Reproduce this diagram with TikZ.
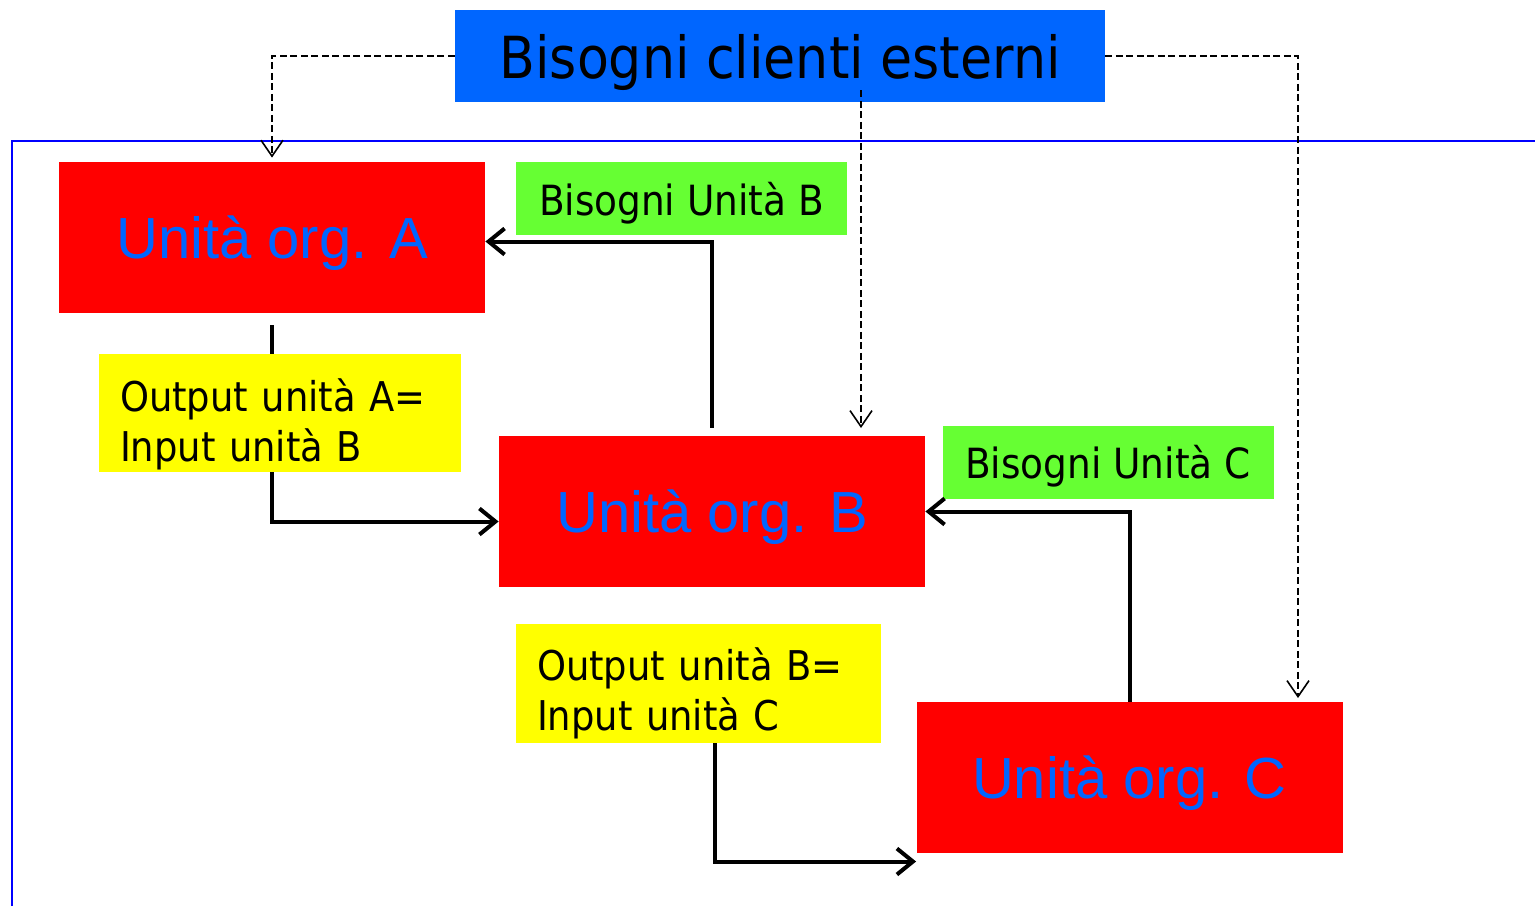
\documentclass[tikz,border=0pt]{standalone}
\usepackage{fontspec}
\setmainfont{DejaVu Sans Condensed}
\newfontfamily\arialfont{Liberation Sans}
\usetikzlibrary{arrows.meta}
\definecolor{extblue}{RGB}{0,102,255}
\definecolor{unitred}{RGB}{255,0,0}
\definecolor{needgreen}{RGB}{102,255,51}
\definecolor{flowyellow}{RGB}{255,255,0}
\definecolor{frameblue}{RGB}{0,0,255}
\tikzstyle{extbox} =
[
	rectangle
	, minimum width=325pt
	, minimum height=46pt
	, text depth=0pt
	, fill=extblue
	, font=\fontsize{29}{34}\selectfont
]
\tikzstyle{unitbox} =
[
	rectangle
	, minimum width=213pt
	, minimum height=75.5pt
	, text depth=0pt
	, fill=unitred
	, text=extblue
	, font=\arialfont\fontsize{29}{34}\selectfont
]
\tikzstyle{needbox} =
[
	rectangle
	, minimum width=165.5pt
	, minimum height=36.5pt
	, text depth=0pt
	, fill=needgreen
	, font=\fontsize{20.8}{25}\selectfont
]
\tikzstyle{flowbox} =
[
	rectangle
	, text width=160pt
	, inner xsep=10.5pt
	, inner ysep=0pt
	, text height=28.5pt
	, text depth=30.5pt
	, align=left
	, fill=flowyellow
	, font=\fontsize{20.5}{25}\selectfont
]
\tikzstyle{arrow} = [line width=2pt, -{Straight Barb[length=8pt,width=13pt]}]
\tikzstyle{plainline} = [line width=2pt]
\tikzstyle{needarrow} = [line width=1.1pt, dash pattern=on 3.5pt off 1.75pt, -{Straight Barb[length=8pt,width=11pt,line width=0.8pt]}]
\tikzstyle{frame} = [line width=1pt, draw=frameblue]
\begin{document}
\begin{tikzpicture}[x=0.5pt, y=-0.5pt]
\useasboundingbox (0,0) rectangle (1535,906);

\draw[frame](12,906)--(12,141)--(1535,141);

\node(ext)[extbox] at (780,56){Bisogni clienti esterni};
\node(unitA)[unitbox] at (272,237.5){Unità org. A};
\node(unitB)[unitbox] at (712,511.5){Unità org. B};
\node(unitC)[unitbox] at (1129.5,777.5){Unità org. C};
\node(needB)[needbox] at (681.5,198.5){Bisogni Unità B};
\node(needC)[needbox] at (1108,462){Bisogni Unità C};
\node(outA)[flowbox] at (280,413){Output unità A=\\Input unità B};
\node(outB)[flowbox, text width=161.5pt, text height=28pt, text depth=31.5pt] at (698.5,683.5){Output unità B=\\Input unità C};

\coordinate(toB) at (861,428);
\coordinate(toC) at (1298,698);

\draw[plainline]([yshift=-6pt]unitA.south)--(unitA.south |- outA.north);
\draw[arrow](unitA.south |- outA.south)|-([yshift=-5pt]unitB.west);
\draw[arrow]([yshift=4pt]unitB.north)|-([yshift=-2pt]unitA.east);
\draw[arrow](unitC.north)|-(unitB.east);
\draw[arrow]([xshift=8pt]outB.south)|-([yshift=-42pt]unitC.west);

\draw[needarrow](ext.west)-|([yshift=2pt]unitA.north);
\draw[needarrow]([xshift=40.5pt,yshift=6pt]ext.south)--(toB);
\draw[needarrow](ext.east)-|(toC);

\end{tikzpicture}
\end{document}
